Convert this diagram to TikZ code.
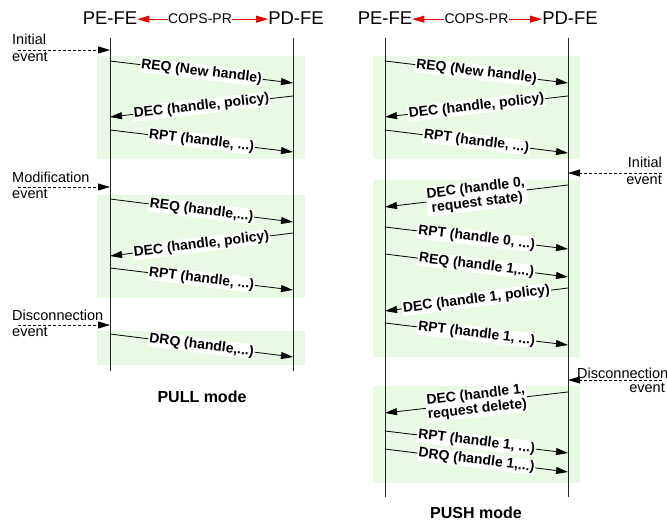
\documentclass[tikz,border=0pt]{standalone}
\usepackage{fontspec}
\setmainfont{Liberation Sans}
\usetikzlibrary{arrows.meta}
\definecolor{zone}{RGB}{232,250,227}
\definecolor{copsred}{RGB}{235,0,0}

\begin{document}
\begin{tikzpicture}[x=1pt,y=-1pt,
  lifeline/.style={draw=black!85, line width=0.9pt},
  msg/.style={draw=black, line width=0.8pt, -{Triangle[length=12pt,width=7pt]}},
  trigger/.style={draw=black, line width=0.8pt, dash pattern=on 3pt off 2pt,
                  -{Triangle[length=12pt,width=7pt]}},
  lbl/.style={sloped, fill=white, inner sep=1pt, align=center,
              font=\fontsize{14}{14.5}\selectfont\bfseries},
  entity/.style={anchor=base, inner sep=0pt, font=\fontsize{18.5}{20}\selectfont},
  proto/.style={anchor=base, inner sep=0pt, font=\fontsize{14}{16}\selectfont},
  evt/.style={inner sep=0pt, font=\fontsize{14.5}{16}\selectfont},
  mode/.style={font=\fontsize{16}{18}\selectfont\bfseries},
  copsarrow/.style={draw=copsred, line width=0.9pt,
                    -{Triangle[length=12pt,width=7pt]}}
]
\useasboundingbox (0,0) rectangle (667,521);

% shaded phases
\fill[zone] (97,56) rectangle (305,159);
\fill[zone] (97,195) rectangle (305,298);
\fill[zone] (97,331) rectangle (305,365);
\fill[zone] (373,56) rectangle (580,159);
\fill[zone] (373,180) rectangle (580,357);
\fill[zone] (373,386) rectangle (580,483);

% ---------------- PULL mode ----------------
\node[entity] (pe1) at (110,25) {PE-FE};
\node[proto]  (cp1) at (200,24) {COPS-PR};
\node[entity] (pd1) at (296,25) {PD-FE};
\draw[copsarrow] (cp1.west) -- (pe1.east |- cp1.west);
\draw[copsarrow] (cp1.east) -- (pd1.west |- cp1.east);

\coordinate (pe1t) at (110,38);  \coordinate (pe1b) at (110,371);
\coordinate (pd1t) at (293,38);  \coordinate (pd1b) at (293,371);
\draw[lifeline] (pe1t) -- (pe1b);
\draw[lifeline] (pd1t) -- (pd1b);

% triggering events
\node[evt, anchor=base west] (ev1a) at (12,45) {Initial};
\node[evt, anchor=base west] (ev1b) at (12,62) {event};
\coordinate (tr1s) at (18,50);  \coordinate (tr1e) at (110,50);
\draw[trigger] (tr1s) -- (tr1e);

\node[evt, anchor=base west] (ev2a) at (12,183) {Modification};
\node[evt, anchor=base west] (ev2b) at (12,199) {event};
\coordinate (tr2s) at (18,187); \coordinate (tr2e) at (110,187);
\draw[trigger] (tr2s) -- (tr2e);

\node[evt, anchor=base west] (ev3a) at (12,321) {Disconnection};
\node[evt, anchor=base west] (ev3b) at (12,337) {event};
\coordinate (tr3s) at (18,325); \coordinate (tr3e) at (110,325);
\draw[trigger] (tr3s) -- (tr3e);

% messages
\coordinate (l1a) at (110,61);  \coordinate (l1b) at (293,83);
\coordinate (l2a) at (293,96);  \coordinate (l2b) at (110,117);
\coordinate (l3a) at (110,130); \coordinate (l3b) at (293,152);
\coordinate (l4a) at (110,199); \coordinate (l4b) at (293,222);
\coordinate (l5a) at (293,233); \coordinate (l5b) at (110,256);
\coordinate (l6a) at (110,268); \coordinate (l6b) at (293,290);
\coordinate (l7a) at (110,334); \coordinate (l7b) at (293,357);
\draw[msg] (l1a) -- node[lbl] {REQ (New handle)} (l1b);
\draw[msg] (l2a) -- node[lbl] {DEC (handle, policy)} (l2b);
\draw[msg] (l3a) -- node[lbl] {RPT (handle, ...)} (l3b);
\draw[msg] (l4a) -- node[lbl] {REQ (handle,...)} (l4b);
\draw[msg] (l5a) -- node[lbl] {DEC (handle, policy)} (l5b);
\draw[msg] (l6a) -- node[lbl] {RPT (handle, ...)} (l6b);
\draw[msg] (l7a) -- node[lbl] {DRQ (handle,...)} (l7b);

\node[mode] (pull) at (202,397) {PULL mode};

% ---------------- PUSH mode ----------------
\node[entity] (pe2) at (385,25) {PE-FE};
\node[proto]  (cp2) at (476.5,24) {COPS-PR};
\node[entity] (pd2) at (570,25) {PD-FE};
\draw[copsarrow] (cp2.west) -- (pe2.east |- cp2.west);
\draw[copsarrow] (cp2.east) -- (pd2.west |- cp2.east);

\coordinate (pe2t) at (385,38);  \coordinate (pe2b) at (385,497);
\coordinate (pd2t) at (568,38);  \coordinate (pd2b) at (568,497);
\draw[lifeline] (pe2t) -- (pe2b);
\draw[lifeline] (pd2t) -- (pd2b);

% triggering events
\node[evt, anchor=base east] (ev4a) at (662,168) {Initial};
\node[evt, anchor=base east] (ev4b) at (662,185) {event};
\coordinate (tr4s) at (662,173); \coordinate (tr4e) at (568,173);
\draw[trigger] (tr4s) -- (tr4e);

\node[evt, anchor=base west] (ev5a) at (577,378) {Disconnection};
\node[evt, anchor=base east] (ev5b) at (665,392) {event};
\coordinate (tr5s) at (662,380); \coordinate (tr5e) at (568,380);
\draw[trigger] (tr5s) -- (tr5e);

% messages
\coordinate (r1a) at (385,61);   \coordinate (r1b) at (568,83);
\coordinate (r2a) at (568,96);   \coordinate (r2b) at (385,117);
\coordinate (r3a) at (385,130);  \coordinate (r3b) at (568,153);
\coordinate (r4a) at (568,185);  \coordinate (r4b) at (385,207);
\coordinate (r5a) at (385,227);  \coordinate (r5b) at (568,249);
\coordinate (r6a) at (385,254);  \coordinate (r6b) at (568,277);
\coordinate (r7a) at (568,288);  \coordinate (r7b) at (385,311);
\coordinate (r8a) at (385,323);  \coordinate (r8b) at (568,345);
\coordinate (r9a) at (568,392);  \coordinate (r9b) at (385,413);
\coordinate (r10a) at (385,431); \coordinate (r10b) at (568,453);
\coordinate (r11a) at (385,449); \coordinate (r11b) at (568,472);
\draw[msg] (r1a) -- node[lbl] {REQ (New handle)} (r1b);
\draw[msg] (r2a) -- node[lbl] {DEC (handle, policy)} (r2b);
\draw[msg] (r3a) -- node[lbl] {RPT (handle, ...)} (r3b);
\draw[msg] (r4a) -- node[lbl] {DEC (handle 0,\\request state)} (r4b);
\draw[msg] (r5a) -- node[lbl] {RPT (handle 0, ...)} (r5b);
\draw[msg] (r6a) -- node[lbl] {REQ (handle 1,...)} (r6b);
\draw[msg] (r7a) -- node[lbl] {DEC (handle 1, policy)} (r7b);
\draw[msg] (r8a) -- node[lbl] {RPT (handle 1, ...)} (r8b);
\draw[msg] (r9a) -- node[lbl] {DEC (handle 1,\\request delete)} (r9b);
\draw[msg] (r10a) -- node[lbl] {RPT (handle 1, ...)} (r10b);
\draw[msg] (r11a) -- node[lbl] {DRQ (handle 1,...)} (r11b);

\node[mode] (push) at (476,513) {PUSH mode};
\end{tikzpicture}
\end{document}
